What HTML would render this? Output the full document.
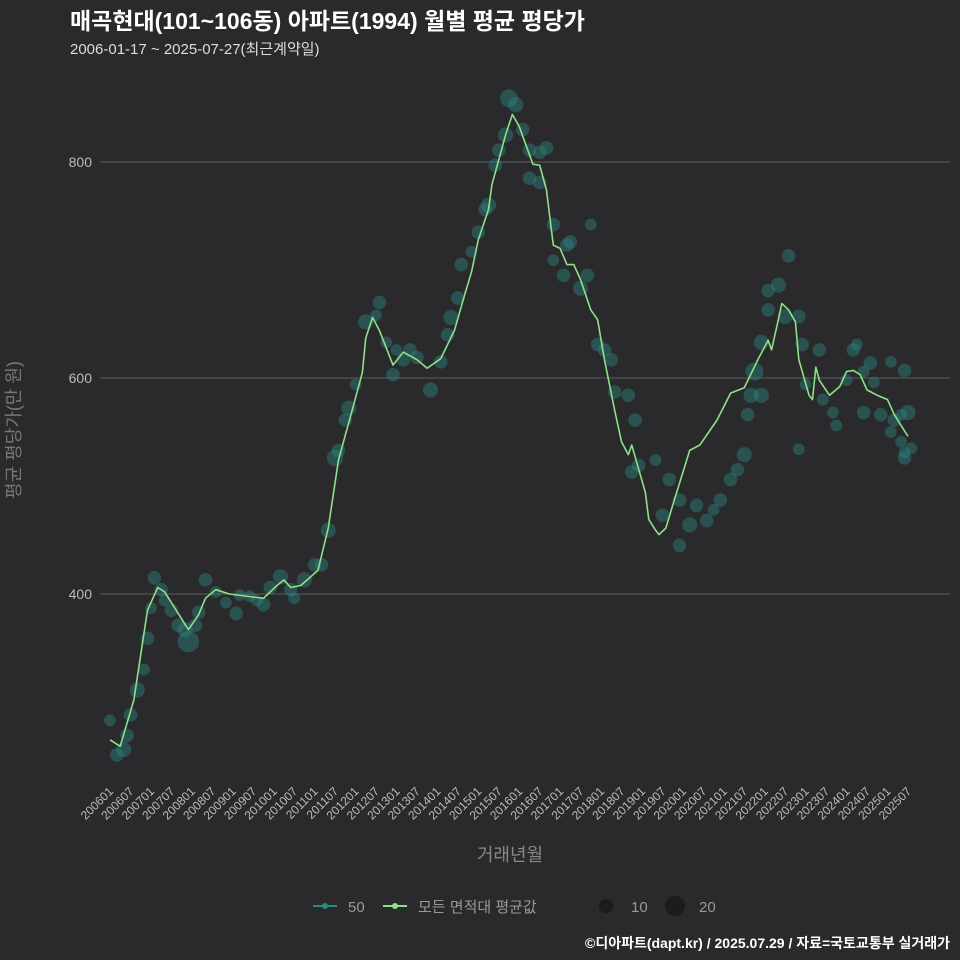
<!DOCTYPE html>
<html><head><meta charset="utf-8"><style>
body{margin:0;background:#2a2a2c;}
svg{display:block;font-family:"Liberation Sans","Noto Sans CJK KR",sans-serif;}
</style></head><body>
<svg id="chart" width="960" height="960" viewBox="0 0 960 960" xmlns="http://www.w3.org/2000/svg">
<rect width="960" height="960" fill="#2a2a2c"/>
<text x="70" y="29" font-size="23" font-weight="bold" fill="#ffffff">매곡현대(101~106동) 아파트(1994) 월별 평균 평당가</text>
<text x="70" y="54" font-size="15" fill="#dddddd">2006-01-17 ~ 2025-07-27(최근계약일)</text>
<g id="grid"></g>
<g id="yticks"></g>
<g id="bubbles"></g>
<g id="line"></g>
<g id="xticks"></g>
<text x="20" y="430" font-size="18" fill="#777777" text-anchor="middle" transform="rotate(-90 20 430)">평균 평당가(만 원)</text>
<text x="510" y="861" font-size="18" fill="#888888" text-anchor="middle">거래년월</text>
<g>
<g><line x1="313" y1="906" x2="337" y2="906" stroke="#2a8a86" stroke-width="2"/><circle cx="325" cy="906" r="3" fill="#2a8a86"/><text x="348" y="912" font-size="15" fill="#999">50</text></g>
<g><line x1="383" y1="906" x2="407" y2="906" stroke="#8ee08a" stroke-width="2"/><circle cx="395" cy="906" r="3" fill="#8ee08a"/><text x="418" y="912" font-size="15" fill="#999">모든 면적대 평균값</text></g>
<g><circle cx="606" cy="906" r="7" fill="#1c1c1e"/><text x="631" y="912" font-size="15" fill="#999">10</text></g>
<g><circle cx="675" cy="906" r="10" fill="#1c1c1e"/><text x="699" y="912" font-size="15" fill="#999">20</text></g>
</g>
<text x="950" y="948" font-size="14" font-weight="bold" fill="#ffffff" text-anchor="end">©디아파트(dapt.kr) / 2025.07.29 / 자료=국토교통부 실거래가</text>
</svg>
<script>
// months are indices from 2006-01
const lineMonths=[0,3,7,11,14,16,23,26,28,31,35,45,49,51,53,56,61,64,67,71,74,75,77,79,83,86,90,93,97,101,104,106,108,111,112,116,118,120,124,126,128,130,132,134,136,138,141,143,145,148,150,152,153,157,158,160,161,163,165,170,173,178,182,186,190,193,194,196,197,199,201,202,205,206,207,208,211,214,216,218,220,222,225,228,230,232,234];
const lineValues=[265,259,302,385,406,402,367,381,396,404,400,396,408,413,406,408,422,461,524,570,605,637,656,644,612,624,617,609,618,644,677,698,728,756,779,825,844,833,798,797,774,723,720,705,705,691,663,654,617,570,541,529,538,494,469,459,455,461,482,533,538,561,586,591,617,635,626,654,669,663,652,617,584,580,610,598,584,592,606,607,603,589,584,580,566,556,546];
const bubbleMonths=[0,2,4,5,6,8,10,11,12,13,15,16,18,20,22,23,25,26,28,31,34,37,38,41,43,45,47,50,53,54,57,60,62,64,66,67,69,70,72,75,78,79,81,83,84,86,88,90,94,97,99,100,102,103,106,108,110,111,113,114,116,117,119,121,123,126,128,123,126,130,130,134,135,133,138,140,141,143,147,148,145,152,154,155,153,160,164,167,162,167,170,172,175,177,179,182,184,186,187,188,189,191,191,193,193,196,198,199,202,203,204,208,209,212,213,216,218,219,221,224,226,229,230,232,232,233,233,234,235,233,229,221,202,223];
const bubbleValues=[283,251,256,269,288,311,330,359,387,415,404,394,385,371,367,356,371,383,413,402,392,382,399,398,394,390,406,416,404,396,413,427,427,459,526,533,561,572,594,652,658,670,633,603,626,617,626,619,589,615,640,656,674,705,717,735,756,760,797,811,825,859,853,830,811,809,813,785,781,742,709,723,726,695,683,695,742,631,617,587,626,584,561,519,513,524,506,487,473,445,464,482,468,478,487,506,515,529,566,584,606,584,633,663,681,686,657,713,657,631,594,626,580,568,556,598,626,631,606,596,566,550,561,541,566,526,531,568,535,607,615,568,534,614];
const bubbleCounts=[6,8,10,8,8,10,6,8,6,8,8,6,8,8,10,20,8,8,8,6,6,8,6,6,6,8,8,10,8,6,10,8,8,10,12,8,8,10,6,10,6,8,6,8,6,8,8,8,10,8,8,10,8,8,6,8,8,10,8,8,10,14,10,8,8,8,8,8,8,8,6,8,8,8,10,8,6,8,8,8,8,8,8,8,8,6,8,8,8,8,10,8,8,6,8,8,8,10,8,10,14,10,10,8,8,10,10,8,8,8,6,8,6,6,6,6,8,6,6,6,8,6,8,6,6,8,6,10,6,8,6,8,6,8];
const yTicks=[400,600,800];
const xTickLabels=[];
for(let y=2006;y<=2025;y++){xTickLabels.push(y+'01');xTickLabels.push(y+'07');}

const X0=110,PX_PER_M=3.41,Y800=162,PX_PER_V=1.08;
const xScale=m=>X0+m*PX_PER_M;
const yScale=v=>Y800+(800-v)*PX_PER_V;
const NS='http://www.w3.org/2000/svg';
function mk(tag,attrs,parent){const e=document.createElementNS(NS,tag);for(const k in attrs)e.setAttribute(k,attrs[k]);parent.appendChild(e);return e;}

const grid=document.getElementById('grid'),yt=document.getElementById('yticks');
yTicks.forEach(v=>{
  const l=mk('line',{x1:100,y1:yScale(v),x2:950,y2:yScale(v),stroke:'#5e5e60','stroke-width':1},grid);
  
  
  const t=mk('text',{x:92,y:yScale(v)+5,'font-size':14,fill:'#bbbbbb','text-anchor':'end'},yt);
  t.textContent=v;
  
  
});

const xt=document.getElementById('xticks');
xTickLabels.forEach((lab,i)=>{
  const x=xScale(i*6);
  const t=mk('text',{x:x+4,y:792,'font-size':12,fill:'#bbbbbb','text-anchor':'end',transform:`rotate(-45 ${x+4} 792)`},xt);
  t.textContent=lab;
  
  
});

const bg=document.getElementById('bubbles');
bubbleMonths.forEach((m,i)=>{
  const c=mk('circle',{cx:xScale(m),cy:yScale(bubbleValues[i]),r:2.4*Math.sqrt(bubbleCounts[i]),fill:'#2a8a86','fill-opacity':0.42},bg);
  
  
});

const pts=lineMonths.map((m,i)=>xScale(m)+','+yScale(lineValues[i])).join(' ');
const pl=mk('polyline',{points:pts,fill:'none',stroke:'#8ee08a','stroke-width':1.6,'stroke-linejoin':'round'},document.getElementById('line'));


</script>
</body></html>
